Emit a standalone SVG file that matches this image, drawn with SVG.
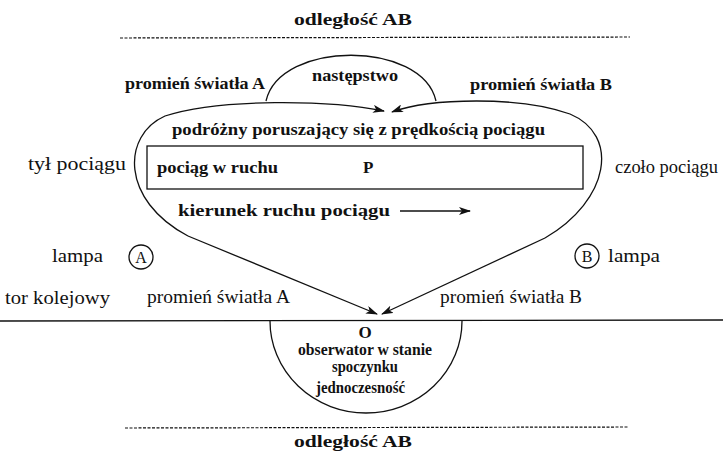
<svg xmlns="http://www.w3.org/2000/svg" width="723" height="457" viewBox="0 0 723 457" font-family="'Liberation Serif', 'Times New Roman', 'DejaVu Serif', serif">
<style>
text{font-family:'Liberation Serif','Times New Roman','DejaVu Serif',serif;fill:#111;font-size:18px;}
.b{font-weight:bold;font-size:17px;}
.s15{font-size:16px;}
.c{font-size:16px;}
.line{fill:none;stroke:#111;stroke-width:1.3;}
.dash{fill:none;stroke:#111;stroke-width:1.2;stroke-dasharray:3,1.5;}
</style>
<defs>
<marker id="ah" viewBox="0 0 12 8" refX="11" refY="4" markerWidth="12" markerHeight="8" markerUnits="userSpaceOnUse" orient="auto">
<path d="M0,0 L12,4 L0,8 L3,4 Z" fill="#111"/>
</marker>
</defs>
<g id="top-label"><text class="b" x="294" y="25" textLength="118" lengthAdjust="spacingAndGlyphs">odległość AB</text></g>
<g id="bottom-label"><text class="b" x="294" y="447" textLength="118" lengthAdjust="spacingAndGlyphs">odległość AB</text></g>
<g id="train">
<rect x="147" y="146" width="436" height="43" class="line"/>
<text class="b" x="157" y="173" textLength="121" lengthAdjust="spacingAndGlyphs">pociąg w ruchu</text>
<text class="b" x="363" y="173">P</text>
</g>
<g id="traveller"><text class="b" x="172" y="135" textLength="373" lengthAdjust="spacingAndGlyphs">podróżny poruszający się z  prędkością pociągu</text></g>
<g id="direction"><text class="b" x="178" y="216" textLength="212" lengthAdjust="spacingAndGlyphs">kierunek ruchu pociągu</text></g>
<g id="sequence"><text class="b" x="312" y="81" textLength="86" lengthAdjust="spacingAndGlyphs">następstwo</text></g>
<g id="rayA-top"><text class="b" x="125" y="89" textLength="140" lengthAdjust="spacingAndGlyphs">promień światła A</text></g>
<g id="rayB-top"><text class="b" x="470" y="90" textLength="142" lengthAdjust="spacingAndGlyphs">promień światła B</text></g>
<g id="rear"><text x="28" y="170" textLength="98" lengthAdjust="spacingAndGlyphs">tył pociągu</text></g>
<g id="front"><text x="615" y="173" textLength="103" lengthAdjust="spacingAndGlyphs">czoło pociągu</text></g>
<g id="lampA">
<text x="52" y="262" textLength="51" lengthAdjust="spacingAndGlyphs">lampa</text>
<circle cx="141" cy="257" r="12" class="line"/>
<text class="c" x="141" y="263" text-anchor="middle">A</text>
</g>
<g id="lampB">
<circle cx="587" cy="256" r="12" class="line"/>
<text class="c" x="587" y="262" text-anchor="middle">B</text>
<text x="608" y="262" textLength="52" lengthAdjust="spacingAndGlyphs">lampa</text>
</g>
<g id="track-label"><text x="5" y="304" textLength="105" lengthAdjust="spacingAndGlyphs">tor kolejowy</text></g>
<g id="rayA-bottom"><text x="147" y="303" textLength="143" lengthAdjust="spacingAndGlyphs">promień światła A</text></g>
<g id="rayB-bottom"><text x="440" y="303" textLength="142" lengthAdjust="spacingAndGlyphs">promień światła B</text></g>
<g id="observer">
<text class="b" x="365" y="338" text-anchor="middle">O</text>
<text class="b s15" x="298" y="355" textLength="134" lengthAdjust="spacingAndGlyphs">obserwator w stanie</text>
<text class="b s15" x="332" y="372" textLength="66" lengthAdjust="spacingAndGlyphs">spoczynku</text>
<text class="b s15" x="316" y="393" textLength="89" lengthAdjust="spacingAndGlyphs">jednoczesność</text>
</g>
<g id="connectors">
<path class="dash" d="M120,38 L630,37"/>
<path class="dash" d="M125,428 L628,427"/>
<path class="line" d="M0,321 L723,320"/>
<path class="line" d="M266,101 C 280,40 422,40 436,101"/>
<path class="line" d="M270,321 A 96 92 0 0 0 462,321"/>
<path class="line" marker-end="url(#ah)" d="M188,236 C 120,200 122,135 165,116 C 220,98 330,100 384,111"/>
<path class="line" marker-end="url(#ah)" d="M188,236 L377,314"/>
<path class="line" marker-end="url(#ah)" d="M545,238 C 610,200 620,135 570,114 C 520,96 430,98 392,112"/>
<path class="line" marker-end="url(#ah)" d="M545,238 L382,314"/>
<path class="line" marker-end="url(#ah)" d="M400,211 L470,211"/>
</g>
</svg>
